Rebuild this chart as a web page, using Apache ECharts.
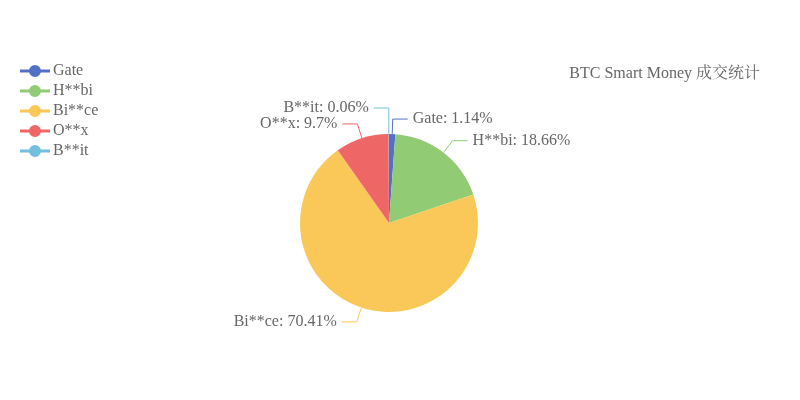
<!DOCTYPE html>
<html><head><meta charset="utf-8">
<script src="https://cdn.jsdelivr.net/npm/echarts@6/dist/echarts.min.js"></script>
<style>html,body{margin:0;padding:0;background:#fff}#c{width:800px;height:400px}</style>
</head><body><div id="c"></div>
<script>
const titleText = 'BTC Smart Money 成交统计';
const categories = ['Gate', 'H**bi', 'Bi**ce', 'O**x', 'B**it'];
const values = [1.14, 18.66, 70.41, 9.7, 0.06];
const colors = ['#5470c6', '#91cc75', '#fac858', '#ee6666', '#73c0de'];
const FONT = '"Liberation Serif", "Noto Serif CJK SC", serif';
const iconPath = 'path://M0,5.5H30V8.5H0Z M9,7A6,6 0 1 1 21,7A6,6 0 1 1 9,7Z';

const chart = echarts.init(document.getElementById('c'));
chart.setOption({
  color: colors,
  textStyle: { fontFamily: FONT },
  title: {
    text: titleText, right: 35, top: 61,
    textStyle: { fontSize: 16, fontWeight: 'normal', color: '#666', fontFamily: FONT }
  },
  legend: {
    orient: 'vertical', left: 15, top: 58, itemWidth: 30, itemHeight: 14, itemGap: 4,
    icon: iconPath,
    textStyle: { fontSize: 16, color: '#666', fontFamily: FONT, padding: [0, 0, 0, -2] },
    data: categories
  },
  series: [{
    type: 'pie', center: [389, 223], radius: 89, startAngle: 90,
    avoidLabelOverlap: false,
    data: categories.map((n, i) => ({
      name: n, value: values[i],
      labelLine: i === 4 ? { length: 26 } : undefined
    })),
    label: { formatter: '{b}: {c}%', fontSize: 16, color: '#666', fontFamily: FONT, padding: [3, 0, 0, 0] },
    labelLine: { length: 15, length2: 15 }
  }]
});
</script></body></html>
